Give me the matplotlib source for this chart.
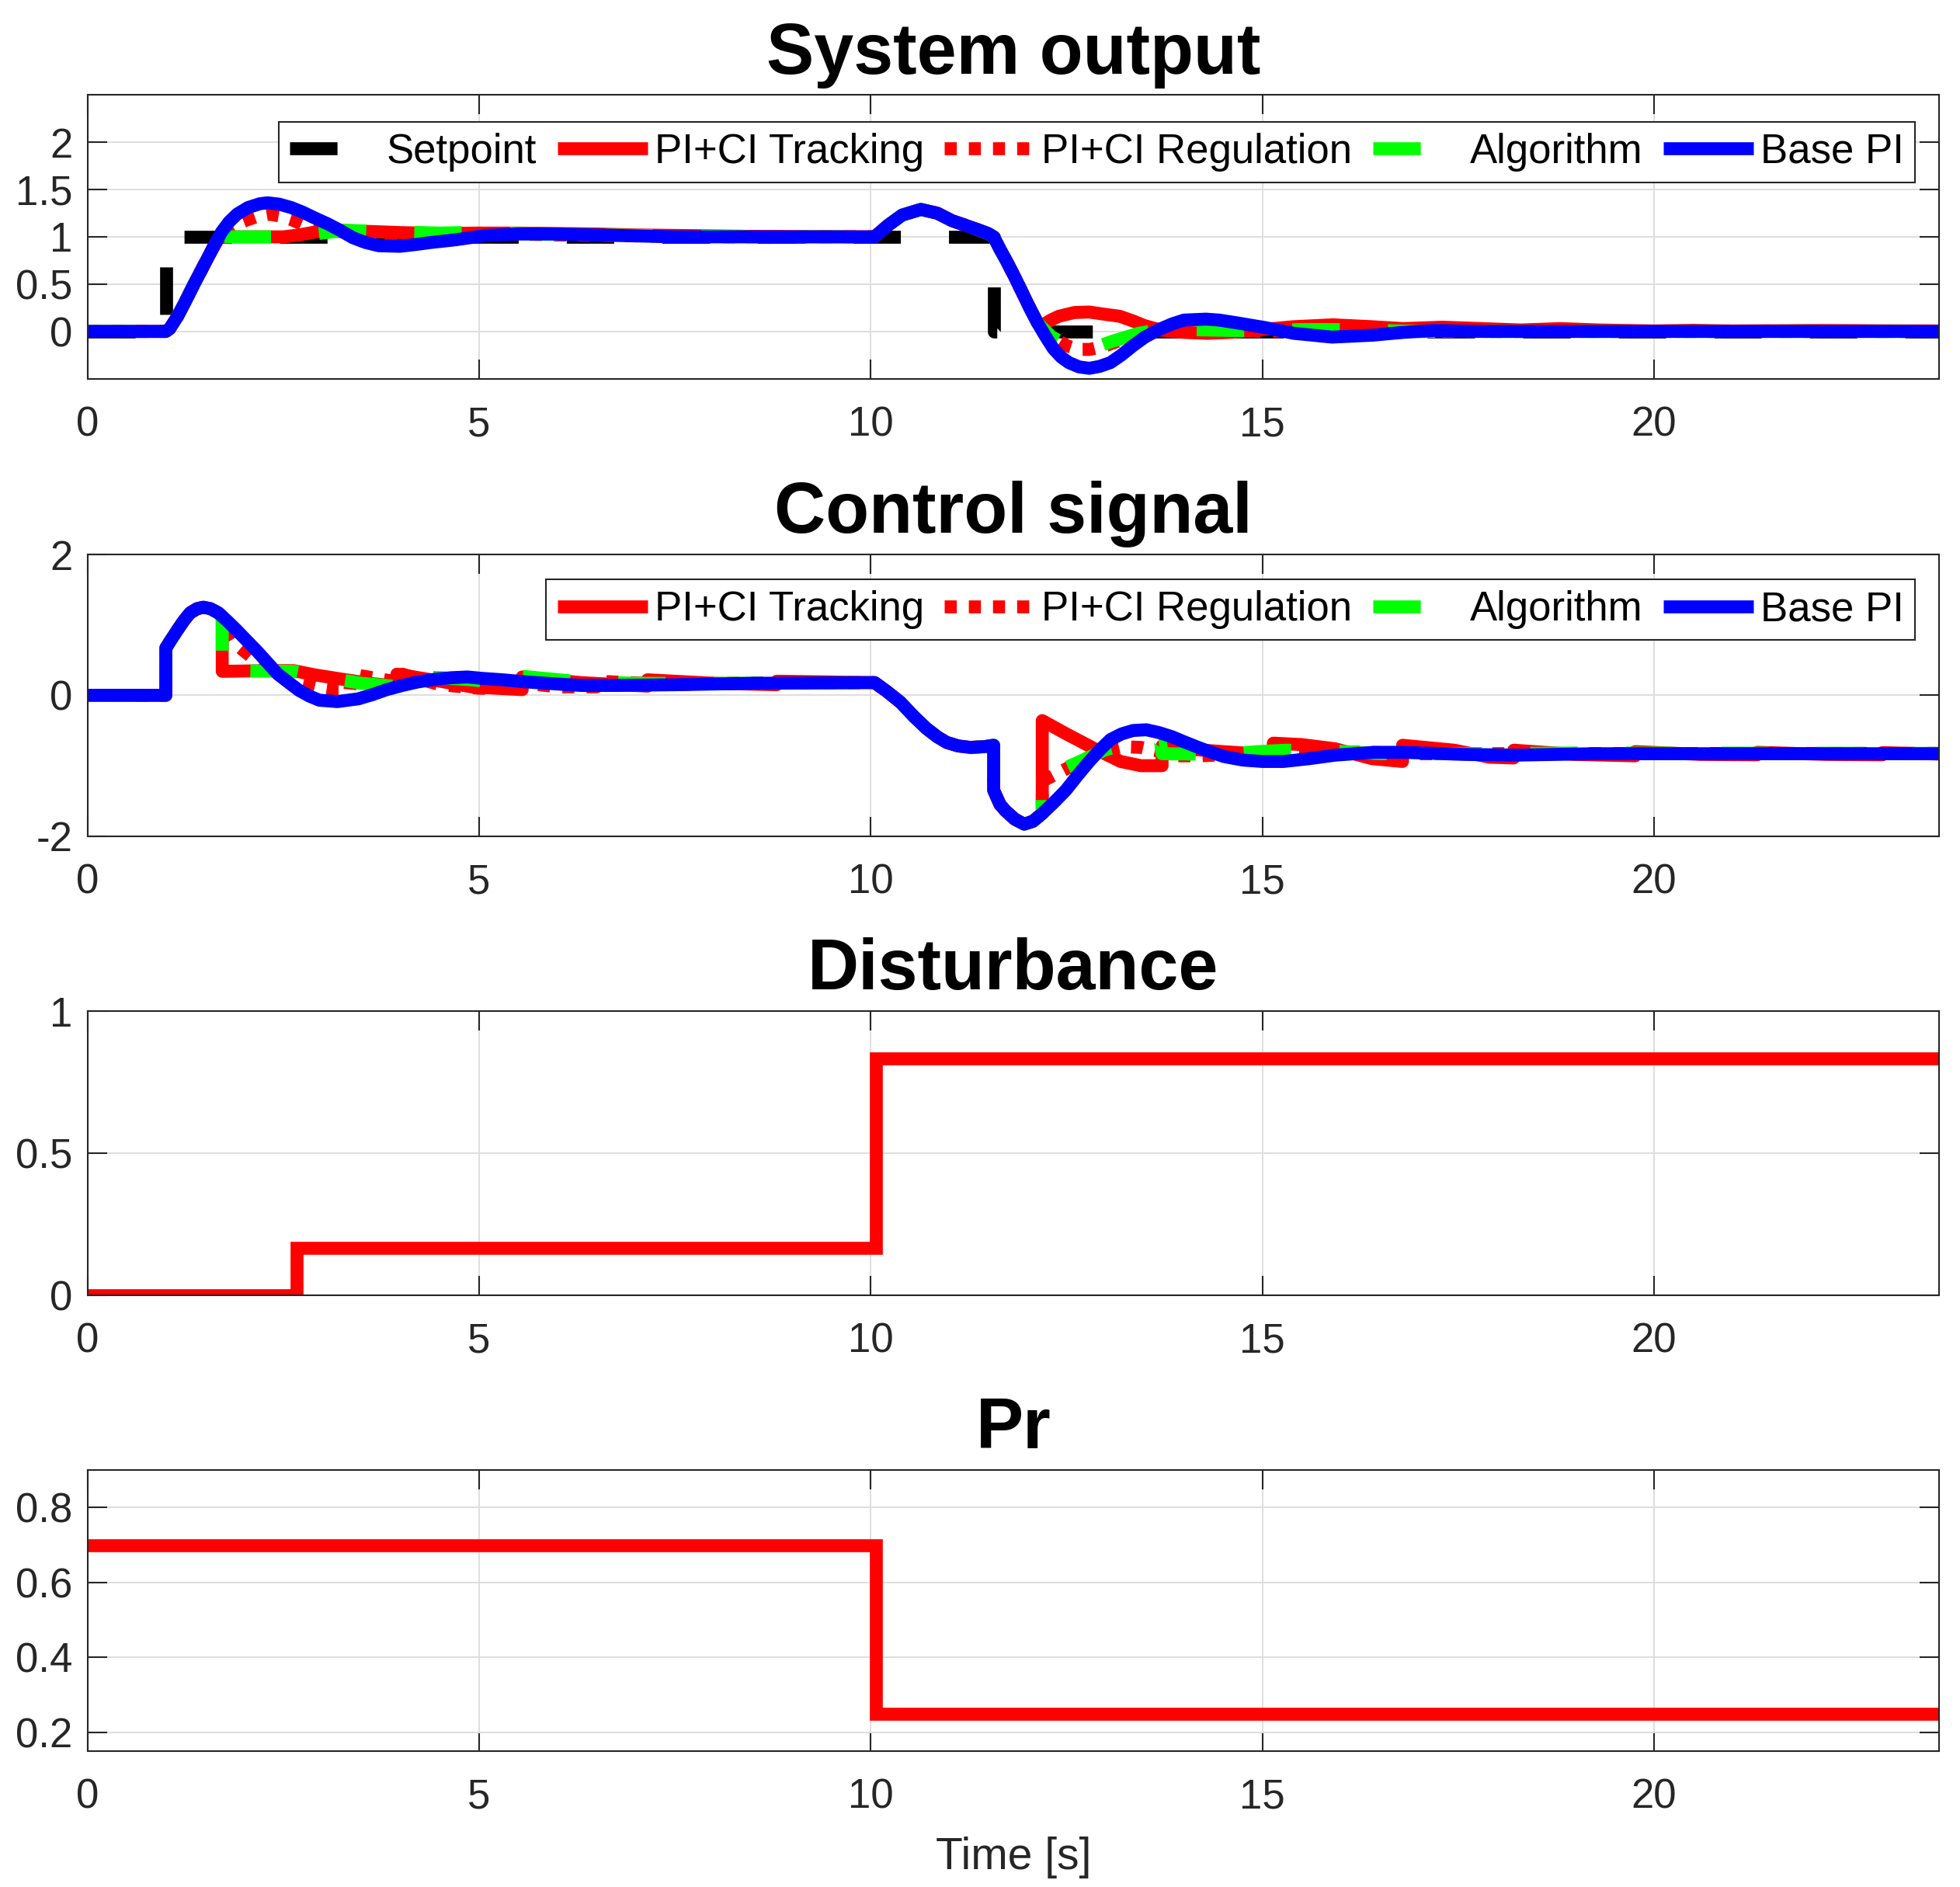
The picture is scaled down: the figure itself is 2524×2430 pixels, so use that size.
import matplotlib
matplotlib.use('Agg')
import matplotlib.pyplot as plt
from matplotlib.ticker import FuncFormatter

plt.rcParams['font.family'] = ['Liberation Sans', 'DejaVu Sans']
plt.rcParams['axes.unicode_minus'] = False
plt.rcParams['lines.scale_dashes'] = False

T_END = 23.64

# ---------------- data ----------------
# Setpoint
sp_t = [0, 1.0, 1.0, 11.57, 11.57, T_END]
sp_y = [0, 0, 1, 1, 0, 0]

# System output: shared parts
out_rise_t = [0, 1.0, 1.05, 1.15, 1.245, 1.36, 1.48, 1.6]
out_rise_y = [0, 0, 0.03, 0.16, 0.31, 0.5, 0.69, 0.88]
out_mid_t = [10.05, 10.21, 10.4, 10.64, 10.85, 11.04, 11.2, 11.37, 11.5, 11.57,
             11.65, 11.73, 11.83, 11.93, 12.03, 12.13]
out_mid_y = [1.0, 1.115, 1.23, 1.29, 1.25, 1.17, 1.125, 1.075, 1.035, 1.0,
             0.87, 0.75, 0.59, 0.42, 0.25, 0.09]

# Base PI output
base_out_a_t = [1.71, 1.81, 1.91, 2.05, 2.2, 2.3, 2.45, 2.6, 2.75, 2.9, 3.06, 3.2, 3.39,
                3.55, 3.72, 3.99, 4.2, 4.38, 4.71, 5.08, 5.5, 6.0, 6.5, 7.0, 7.5]
base_out_a_y = [1.05, 1.16, 1.24, 1.31, 1.35, 1.36, 1.345, 1.31, 1.26, 1.2, 1.14, 1.08, 0.99,
                0.94, 0.906, 0.90, 0.92, 0.94, 0.97, 1.015, 1.03, 1.03, 1.02, 1.01, 1.0]
base_out_b_t = [12.23, 12.33, 12.43, 12.53, 12.66, 12.79, 12.92, 13.06, 13.2, 13.35,
                13.5, 13.68, 13.85, 14.0, 14.28, 14.45, 14.68, 15.04, 15.4, 15.89,
                16.4, 16.8, 17.2, 17.8, T_END]
base_out_b_y = [-0.05, -0.18, -0.27, -0.33, -0.375, -0.39, -0.37, -0.33, -0.25, -0.15,
                -0.06, 0.02, 0.08, 0.12, 0.13, 0.12, 0.09, 0.04, -0.02, -0.06,
                -0.04, -0.01, 0.01, 0.0, 0.0]

# PI+CI Tracking output
trk_out_a_t = [1.68, 1.75, 2.5, 2.7, 2.9, 3.2, 3.5, 4.0, 4.5, 5.0, 5.5, 6.0, 6.5, 7.0, 7.5, 8.5]
trk_out_a_y = [0.99, 1.0, 1.0, 1.02, 1.05, 1.07, 1.06, 1.045, 1.035, 1.04, 1.04, 1.035,
               1.03, 1.02, 1.015, 1.005]
trk_out_b_t = [12.2, 12.3, 12.4, 12.6, 12.79, 13.0, 13.18, 13.35, 13.5, 13.68, 13.85, 14.0,
               14.3, 14.6, 15.0, 15.4, 15.9, 16.4, 16.8, 17.3, 17.8, 18.3, 18.8, 19.3,
               20.0, 20.5, 21.0, 22.0, T_END]
trk_out_b_y = [0.07, 0.12, 0.16, 0.2, 0.205, 0.18, 0.16, 0.11, 0.06, 0.02, 0.0, -0.01,
               -0.02, -0.01, 0.02, 0.05, 0.07, 0.05, 0.03, 0.045, 0.03, 0.015, 0.03, 0.015,
               0.005, 0.012, 0.005, 0.01, 0.005]

# PI+CI Regulation output
reg_out_a_t = [1.71, 1.85, 2.04, 2.18, 2.32, 2.46, 2.61, 2.75, 2.9, 3.1, 3.4, 3.8, 4.2,
               4.6, 5.0, 5.5, 6.0, 7.0, 8.0]
reg_out_a_y = [1.05, 1.12, 1.18, 1.22, 1.24, 1.22, 1.18, 1.13, 1.09, 1.06, 1.05, 1.04, 1.02,
               1.03, 1.035, 1.03, 1.02, 1.01, 1.0]
reg_out_b_t = [12.3, 12.5, 12.65, 12.8, 13.0, 13.2, 13.42, 13.6, 14.0, 14.3, 14.6, 15.0,
               15.5, 16.0, 17.0, T_END]
reg_out_b_y = [-0.05, -0.15, -0.19, -0.19, -0.15, -0.09, -0.02, 0.01, 0.02, 0.02, 0.01, 0.0,
               0.01, 0.02, 0.0, 0.0]

# Algorithm output
alg_out_a_t = [1.68, 1.75, 2.5, 2.7, 3.0, 3.3, 3.6, 4.0, 4.5, 4.8, 5.2, 5.8, 6.5, 7.5, 8.5]
alg_out_a_y = [0.99, 1.0, 1.0, 1.01, 1.04, 1.07, 1.06, 1.05, 1.04, 1.045, 1.04, 1.03, 1.02,
               1.01, 1.0]
alg_out_b_t = [12.3, 12.5, 12.82, 13.1, 13.42, 13.7, 14.0, 14.6, 15.0, 15.5, 15.9, 16.5,
               17.0, T_END]
alg_out_b_y = [-0.05, -0.15, -0.18, -0.1, -0.02, 0.02, 0.02, 0.01, 0.01, 0.02, 0.02, 0.01,
               0.0, 0.0]

# Control signal: shared parts
ctrl_rise_t = [0, 1.0, 1.0, 1.05, 1.15, 1.23, 1.31, 1.4, 1.48, 1.57, 1.67, 1.72]
ctrl_rise_u = [0, 0, 0.67, 0.76, 0.93, 1.06, 1.17, 1.23, 1.25, 1.23, 1.17, 1.12]
ctrl_mid_t = [10.05, 10.2, 10.38, 10.55, 10.71, 10.85, 10.97, 11.12, 11.27, 11.45, 11.57,
              11.57, 11.65, 11.72, 11.84, 11.96, 12.07, 12.19]
ctrl_mid_u = [0.18, 0.06, -0.1, -0.3, -0.47, -0.59, -0.67, -0.72, -0.74, -0.73, -0.71,
              -1.35, -1.55, -1.64, -1.76, -1.83, -1.79, -1.68]

# Base PI control
base_ctrl_a_t = [1.78, 1.9, 2.03, 2.17, 2.3, 2.43, 2.57, 2.7, 2.83, 2.96, 3.19, 3.46, 3.64,
                 3.82, 4.02, 4.22, 4.45, 4.65, 4.85, 5.04, 5.3, 5.6, 6.0, 6.3, 6.8, 7.5, 8.5]
base_ctrl_a_u = [1.06, 0.93, 0.78, 0.62, 0.46, 0.30, 0.18, 0.07, -0.01, -0.07, -0.09, -0.05,
                 0.01, 0.08, 0.14, 0.19, 0.23, 0.25, 0.26, 0.24, 0.22, 0.19, 0.16, 0.14,
                 0.14, 0.15, 0.17]
base_ctrl_b_t = [12.34, 12.49, 12.64, 12.79, 12.93, 13.06, 13.2, 13.35, 13.52, 13.68, 13.85,
                 14.0, 14.18, 14.35, 14.51, 14.75, 15.0, 15.27, 15.6, 15.93, 16.43, 16.79,
                 17.2, 17.58, 18.24, 19.23, 20.05, T_END]
base_ctrl_b_u = [-1.52, -1.35, -1.14, -0.94, -0.77, -0.63, -0.55, -0.50, -0.49, -0.53, -0.59,
                 -0.66, -0.74, -0.81, -0.87, -0.92, -0.94, -0.94, -0.9, -0.85, -0.81, -0.81,
                 -0.825, -0.84, -0.85, -0.83, -0.83, -0.83]

# PI+CI Tracking control
trk_ctrl_a_t = [1.72, 2.3, 2.63, 2.9, 3.24, 3.6, 3.95, 3.95, 4.5, 4.9, 5.55, 5.55, 6.3,
                7.15, 7.15, 8.0, 8.8, 8.8]
trk_ctrl_a_u = [0.34, 0.35, 0.35, 0.29, 0.23, 0.17, 0.13, 0.3, 0.2, 0.12, 0.08, 0.26, 0.18,
                0.13, 0.22, 0.17, 0.15, 0.2]
trk_ctrl_b_t = [12.19, 12.5, 12.86, 13.19, 13.45, 13.72, 13.72, 14.0, 14.5, 14.9, 15.14,
                15.14, 15.5, 15.93, 16.4, 16.79, 16.79, 17.45, 17.9, 18.21, 18.21, 19.0,
                19.76, 19.76, 20.6, 21.32, 21.32, 22.2, 22.92, 22.92, T_END]
trk_ctrl_b_u = [-0.36, -0.55, -0.76, -0.94, -1.0, -1.0, -0.72, -0.76, -0.8, -0.83, -0.85,
                -0.68, -0.7, -0.76, -0.9, -0.94, -0.71, -0.78, -0.88, -0.89, -0.78, -0.84,
                -0.86, -0.8, -0.84, -0.845, -0.81, -0.84, -0.845, -0.815, -0.835]

# PI+CI Regulation control
reg_ctrl_a_t = [1.8, 1.9, 2.13, 2.4, 2.7, 2.93, 3.2, 3.35, 3.37, 3.9, 4.0, 4.02, 4.5, 5.0,
                5.2, 5.22, 6.0, 6.5, 6.52, 7.5, 8.0]
reg_ctrl_a_u = [0.9, 0.72, 0.51, 0.32, 0.17, 0.11, 0.07, 0.07, 0.3, 0.2, 0.2, 0.3, 0.15, 0.1,
                0.1, 0.22, 0.12, 0.12, 0.2, 0.15, 0.17]
reg_ctrl_b_t = [12.19, 12.73, 13.0, 13.2, 13.45, 13.7, 13.9, 14.2, 14.6, 15.0, 15.5, 16.0,
                17.0, T_END]
reg_ctrl_b_u = [-1.22, -0.91, -0.78, -0.73, -0.74, -0.8, -0.86, -0.86, -0.84, -0.83, -0.8,
                -0.8, -0.83, -0.825]

# Algorithm control
alg_ctrl_a_t = [1.72, 2.63, 3.0, 3.5, 3.9, 3.95, 4.5, 4.9, 5.5, 5.55, 6.2, 7.0, 8.0]
alg_ctrl_a_u = [0.35, 0.34, 0.26, 0.17, 0.13, 0.28, 0.25, 0.22, 0.15, 0.27, 0.2, 0.17, 0.17]
alg_ctrl_b_t = [12.19, 12.45, 12.73, 13.0, 13.3, 13.52, 13.7, 13.72, 14.5, 14.94, 15.3,
                15.9, 16.5, 17.5, 19.0, T_END]
alg_ctrl_b_u = [-1.22, -1.05, -0.91, -0.77, -0.69, -0.68, -0.66, -0.83, -0.84, -0.8, -0.78,
                -0.79, -0.83, -0.83, -0.82, -0.825]

# Disturbance and Pr
dist_t = [0, 2.67, 2.67, 10.07, 10.07, T_END]
dist_v = [0, 0, 0.167, 0.167, 0.833, 0.833]
pr_t = [0, 10.07, 10.07, T_END]
pr_v = [0.7, 0.7, 0.25, 0.25]

labels = ['Setpoint', 'PI+CI Tracking', 'PI+CI Regulation', 'Algorithm', 'Base PI']
titles = ['System output', 'Control signal', 'Disturbance', 'Pr']
xticks = [0, 5, 10, 15, 20]

# ---------------- styling ----------------
W, H = 2524, 2430
DPI = 200
LW = 6.0
AX_COL = '#262626'
GRID_COL = '#dedede'
FS = 19

styles = {
    'Setpoint': dict(color='black', dashes=(22, 22.3)),
    'PI+CI Tracking': dict(color='#ff0000', linestyle='-'),
    'PI+CI Regulation': dict(color='#ff0000', dashes=(5.6, 5.6)),
    'Algorithm': dict(color='#00ff00', dashes=(22, 22.3)),
    'Base PI': dict(color='#0000ff', linestyle='-'),
}

fig = plt.figure(figsize=(W / DPI, H / DPI), dpi=DPI)

left = 112.7 / W
width = (2497 - 112.7) / W
ax_px = [(122.3, 487.7), (714.0, 1076.7), (1302.2, 1667.6), (1893.0, 2255.2)]
axes = []
for top, bot in ax_px:
    axes.append(fig.add_axes([left, 1 - bot / H, width, (bot - top) / H]))

fmt = FuncFormatter(lambda v, p: f'{v:g}')


def style_axis(ax, ylim, yticks, title):
    ax.set_xlim(0, T_END)
    ax.set_ylim(*ylim)
    ax.set_xticks(xticks)
    ax.set_yticks(yticks)
    ax.xaxis.set_major_formatter(fmt)
    ax.yaxis.set_major_formatter(fmt)
    ax.grid(True, color=GRID_COL, linewidth=0.7)
    ax.set_axisbelow(True)
    for s in ax.spines.values():
        s.set_color(AX_COL)
        s.set_linewidth(0.75)
    ax.tick_params(axis='both', direction='in', top=True, right=True, length=9,
                   width=0.75, color=AX_COL, labelcolor=AX_COL, labelsize=FS)
    ax.tick_params(axis='x', pad=12.5)
    ax.tick_params(axis='y', pad=7)
    ax.set_title(title, fontsize=33, fontweight='bold', pad=10)


def draw(ax, t, y, name):
    st = dict(styles[name])
    ax.plot(t, y, linewidth=LW, solid_capstyle='butt', dash_capstyle='butt',
            solid_joinstyle='round', dash_joinstyle='round', label=name, **st)


# Panel 1: System output
ax = axes[0]
draw(ax, sp_t, sp_y, 'Setpoint')
draw(ax, out_rise_t + trk_out_a_t + out_mid_t + trk_out_b_t,
     out_rise_y + trk_out_a_y + out_mid_y + trk_out_b_y, 'PI+CI Tracking')
draw(ax, out_rise_t + reg_out_a_t + out_mid_t + reg_out_b_t,
     out_rise_y + reg_out_a_y + out_mid_y + reg_out_b_y, 'PI+CI Regulation')
draw(ax, out_rise_t + alg_out_a_t + out_mid_t + alg_out_b_t,
     out_rise_y + alg_out_a_y + out_mid_y + alg_out_b_y, 'Algorithm')
draw(ax, out_rise_t + base_out_a_t + out_mid_t + base_out_b_t,
     out_rise_y + base_out_a_y + out_mid_y + base_out_b_y, 'Base PI')
style_axis(ax, (-0.5, 2.5), [0, 0.5, 1, 1.5, 2], titles[0])

leg_kw = dict(loc='upper right', fontsize=FS, frameon=True, fancybox=False, framealpha=1,
              edgecolor=AX_COL, borderpad=0.27, borderaxespad=0, handlelength=2.2,
              handletextpad=0.17, columnspacing=0.5)
lg = ax.legend(ncol=5, bbox_to_anchor=(0.987, 0.906), **leg_kw)
lg.get_frame().set_linewidth(0.75)

# Panel 2: Control signal
ax = axes[1]
draw(ax, ctrl_rise_t + trk_ctrl_a_t + ctrl_mid_t + trk_ctrl_b_t,
     ctrl_rise_u + trk_ctrl_a_u + ctrl_mid_u + trk_ctrl_b_u, 'PI+CI Tracking')
draw(ax, ctrl_rise_t + reg_ctrl_a_t + ctrl_mid_t + reg_ctrl_b_t,
     ctrl_rise_u + reg_ctrl_a_u + ctrl_mid_u + reg_ctrl_b_u, 'PI+CI Regulation')
draw(ax, ctrl_rise_t + alg_ctrl_a_t + ctrl_mid_t + alg_ctrl_b_t,
     ctrl_rise_u + alg_ctrl_a_u + ctrl_mid_u + alg_ctrl_b_u, 'Algorithm')
draw(ax, ctrl_rise_t + base_ctrl_a_t + ctrl_mid_t + base_ctrl_b_t,
     ctrl_rise_u + base_ctrl_a_u + ctrl_mid_u + base_ctrl_b_u, 'Base PI')
style_axis(ax, (-2, 2), [-2, 0, 2], titles[1])
lg = ax.legend(ncol=4, bbox_to_anchor=(0.987, 0.912), **leg_kw)
lg.get_frame().set_linewidth(0.75)

# Panel 3: Disturbance
ax = axes[2]
ax.plot(dist_t, dist_v, color='#ff0000', linewidth=LW, solid_joinstyle='miter',
        solid_capstyle='butt')
style_axis(ax, (0, 1), [0, 0.5, 1], titles[2])

# Panel 4: Pr
ax = axes[3]
ax.plot(pr_t, pr_v, color='#ff0000', linewidth=LW, solid_joinstyle='miter',
        solid_capstyle='butt')
style_axis(ax, (0.15, 0.9), [0.2, 0.4, 0.6, 0.8], titles[3])
ax.set_xlabel('Time [s]', fontsize=20.5, color=AX_COL, labelpad=9)

fig.savefig('out.png', dpi=DPI)
